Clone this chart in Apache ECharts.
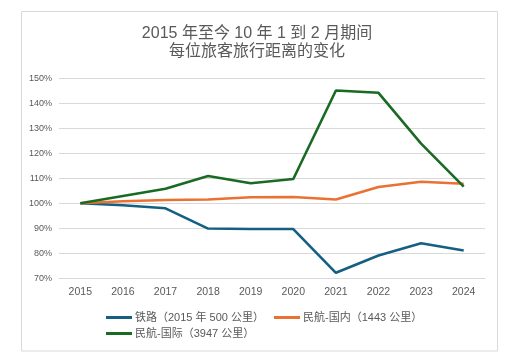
<!DOCTYPE html>
<html><head><meta charset="utf-8">
<script src="https://cdn.jsdelivr.net/npm/echarts@6/dist/echarts.min.js"></script>
<style>html,body{margin:0;padding:0;background:#fff}#c{width:514px;height:363px}</style>
</head><body><div id="c"></div>
<script>
const titleText = '2015 年至今 10 年 1 到 2 月期间\n每位旅客旅行距离的变化';
const years = ['2015','2016','2017','2018','2019','2020','2021','2022','2023','2024'];
const seriesNames = ['铁路（2015 年 500 公里）','民航-国内（1443 公里）','民航-国际（3947 公里）'];
const rail = [100, 99.2, 98.0, 89.9, 89.7, 89.7, 72.2, 79.1, 84.0, 81.1];
const airDomestic = [100, 100.8, 101.3, 101.5, 102.4, 102.5, 101.5, 106.5, 108.6, 107.8];
const airIntl = [100, 102.9, 105.8, 110.9, 108.0, 109.7, 145.1, 144.2, 123.9, 106.7];
const colors = ['#156082', '#E97132', '#196B24'];
const FF = "'Liberation Sans', 'Noto Sans CJK SC', sans-serif";

const chart = echarts.init(document.getElementById('c'), null, {renderer: 'canvas'});
const mk = (name, data, color) => ({
  name, type: 'line', data, showSymbol: false, symbol: 'none',
  lineStyle: {width: 2.6, color}, itemStyle: {color}, animation: false
});
const legendBase = {itemWidth: 26, itemHeight: 3, itemGap: 10, icon: 'rect', padding: 0,
  textStyle: {color: '#595959', fontSize: 11, fontFamily: FF, padding: [0,0,0,-2]}};
chart.setOption({
  animation: false,
  graphic: [{type: 'rect', shape: {x: 21.5, y: 11.5, width: 476, height: 339.5},
    style: {fill: 'none', stroke: '#d9d9d9', lineWidth: 1}, silent: true}],
  title: {text: titleText, left: 'center', top: 20,
    textStyle: {fontSize: 16, fontWeight: 'normal', color: '#595959', lineHeight: 18, fontFamily: FF}},
  grid: {left: 59, right: 29, top: 78.3, bottom: 84.7, containLabel: false},
  xAxis: {type: 'category', data: years, boundaryGap: true,
    axisLine: {show: true, lineStyle: {color: '#d9d9d9', width: 1}},
    axisTick: {show: false},
    axisLabel: {color: '#595959', fontSize: 10.5, margin: 9, fontFamily: FF}},
  yAxis: {type: 'value', min: 70, max: 150, interval: 10,
    axisLine: {show: false}, axisTick: {show: false},
    splitLine: {lineStyle: {color: '#d9d9d9', width: 1}},
    axisLabel: {color: '#595959', fontSize: 9, margin: 7, fontFamily: FF, formatter: v => v + '%'}},
  legend: [
    Object.assign({}, legendBase, {data: [seriesNames[0], seriesNames[1]], left: 106, top: 312}),
    Object.assign({}, legendBase, {data: [seriesNames[2]], left: 106, top: 328})
  ],
  series: [mk(seriesNames[0], rail, colors[0]), mk(seriesNames[1], airDomestic, colors[1]), mk(seriesNames[2], airIntl, colors[2])]
});
</script></body></html>
